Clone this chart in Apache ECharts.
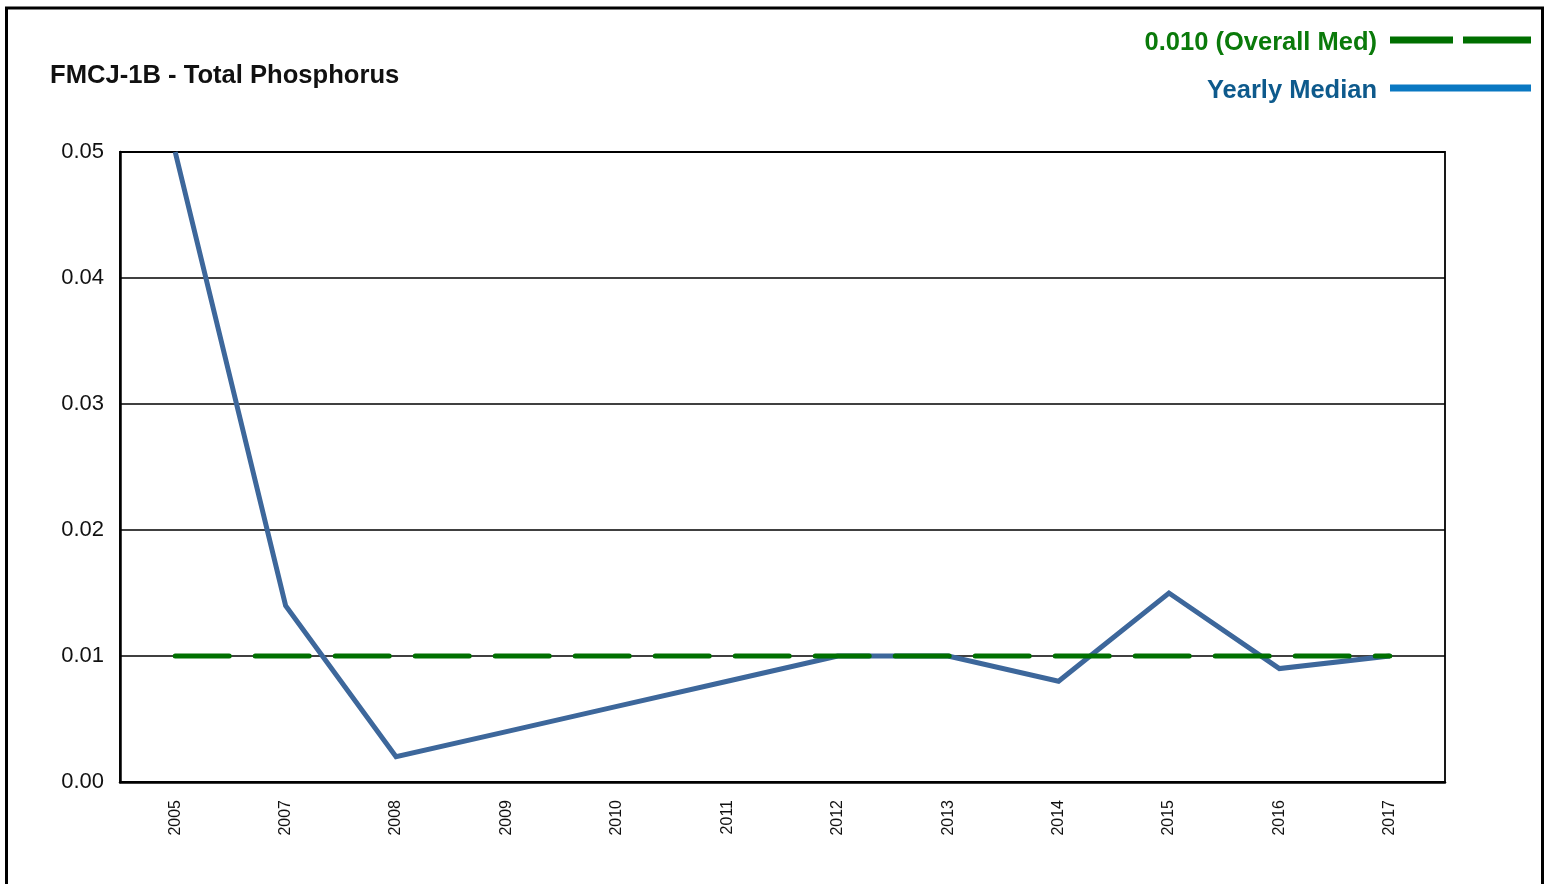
<!DOCTYPE html>
<html><head><meta charset="utf-8">
<script src="https://cdn.jsdelivr.net/npm/echarts@6/dist/echarts.min.js"></script>
<style>html,body{margin:0;padding:0;background:#fff}#c{width:1551px;height:884px}</style>
</head><body><div id="c"></div>
<script>
const years = ['2005','2007','2008','2009','2010','2011','2012','2013','2014','2015','2016','2017'];
const yearlyMedian = [0.050, 0.014, 0.002, 0.004, 0.006, 0.008, 0.010, 0.010, 0.008, 0.015, 0.009, 0.010];
const overallMedian = 0.010;
const overallSeries = years.map(() => overallMedian);
const yTicks = [0, 0.01, 0.02, 0.03, 0.04, 0.05];

const chart = echarts.init(document.getElementById('c'), null, {renderer:'canvas'});
const F = 'Liberation Sans, Arial, Helvetica, sans-serif';
chart.setOption({
  animation:false,
  backgroundColor:'#fff',
  grid:{left:120, top:152, right:106, bottom:102, show:true, borderColor:'#000', borderWidth:1.8, backgroundColor:'transparent'},
  xAxis:{type:'category', data:years, boundaryGap:true,
    axisLine:{lineStyle:{color:'#000', width:2.5}}, axisTick:{show:false},
    axisLabel:{rotate:90, fontSize:16, fontFamily:F, color:'#111', margin:18}},
  yAxis:{type:'value', min:yTicks[0], max:yTicks[yTicks.length-1], interval:0.01,
    axisLine:{show:true, lineStyle:{color:'#000', width:2.5}}, axisTick:{show:false},
    splitLine:{lineStyle:{color:'#000', width:1.5}},
    axisLabel:{fontSize:22, fontFamily:F, color:'#111', margin:16, formatter:v=>v.toFixed(2)}},
  series:[
    {name:'Yearly Median', type:'line', data:yearlyMedian, symbol:'none', z:2,
      lineStyle:{color:'#3d679b', width:5, join:'miter'}},
    {name:'0.010 (Overall Med)', type:'line', data:overallSeries, symbol:'none', z:3,
      lineStyle:{color:'#007000', width:5, type:[54,26], cap:'round'}}
  ],
  graphic:[
    {type:'rect', shape:{x:6.5, y:8, width:1536, height:900}, style:{fill:'none', stroke:'#000', lineWidth:3}, silent:true},
    {type:'text', left:50, top:63, style:{text:'FMCJ-1B - Total Phosphorus', font:'bold 25.6px '+F, fill:'#111'}},
    {type:'text', right:174, top:30, style:{text:'0.010 (Overall Med)', font:'bold 25.5px '+F, fill:'#0a7a0a'}},
    {type:'text', right:174, top:78, style:{text:'Yearly Median', font:'bold 25.5px '+F, fill:'#0e5a8c'}},
    {type:'line', shape:{x1:1390, y1:40, x2:1453, y2:40}, style:{stroke:'#006f00', lineWidth:7}},
    {type:'line', shape:{x1:1463, y1:40, x2:1531, y2:40}, style:{stroke:'#006f00', lineWidth:7}},
    {type:'line', shape:{x1:1390, y1:88, x2:1531, y2:88}, style:{stroke:'#0a78c2', lineWidth:7}}
  ]
});
</script></body></html>
